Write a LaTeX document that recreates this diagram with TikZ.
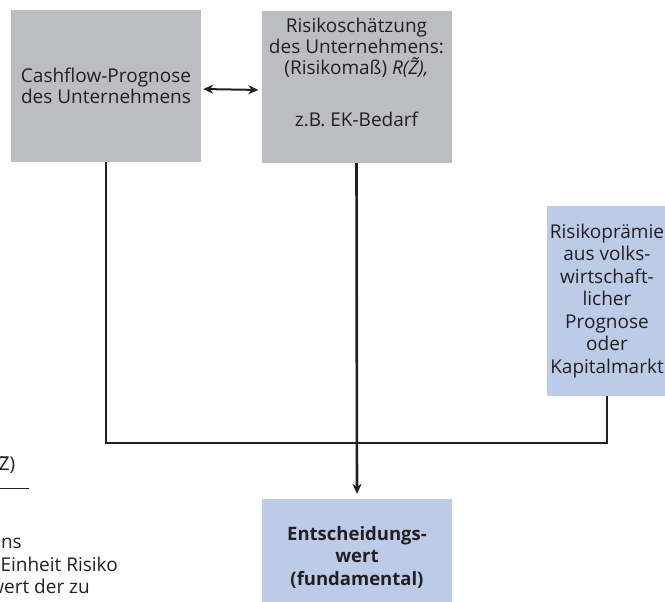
\documentclass[tikz,border=0pt]{standalone}
\usepackage{fontspec}
\setmainfont{Open Sans}
\usetikzlibrary{arrows.meta, positioning}
\definecolor{boxgray}{RGB}{188,189,192}
\definecolor{boxblue}{RGB}{188,203,232}
\definecolor{inkgray}{RGB}{35,31,32}

\begin{document}
\begin{tikzpicture}[x=1pt,y=-1pt,
  graybox/.style={fill=boxgray, minimum width=190pt, minimum height=152pt, inner sep=0pt},
  bluebox/.style={fill=boxblue, inner sep=0pt},
  boxtext/.style={align=center, text=inkgray, font=\fontsize{19}{21}\selectfont},
  sidetext/.style={text=inkgray, inner sep=0pt, font=\fontsize{19}{21}\selectfont},
  link/.style={line width=2.6pt, draw=inkgray}]
\useasboundingbox (0,0) rectangle (665,602);
% Prognose und Risiko
\node[graybox, boxtext] (cash) at (106,86) {Cashflow-Prognose\\des Unternehmens};
\node[graybox] (risk) at (356.5,87) {};
\node[boxtext, below=4pt of risk.north] (risktext) {Risikoschätzung\\des Unternehmens:\\(Risikomaß) \textit{R(Z̃),}\\[31pt]z.B. EK-Bedarf};
\node[bluebox, boxtext, minimum width=120pt, minimum height=190pt, font=\fontsize{19}{22.5}\selectfont] (premium) at (607,301) {Risikoprämie\\aus volks-\\wirtschaft-\\licher\\Prognose\\oder\\Kapitalmarkt};
\node[bluebox, boxtext, minimum width=190pt, minimum height=116pt, font=\fontsize{18.5}{22.5}\selectfont\bfseries] (value) at (357,557) {Entscheidungs-\\wert\\(fundamental)};
% abgeschnittener Text links
\node[sidetext, anchor=base east] (frag1) at (15.5,470) {Z̃)};
\draw[inkgray, line width=0.8pt] (-5,488) -- (29,488);
\node[sidetext, anchor=base east] (frag2) at (22,548) {ins};
\node[sidetext, anchor=base east] (frag3) at (118,571) {Einheit Risiko};
\node[sidetext, anchor=base east] (frag4) at (90,593) {wert der zu};
% Verbindungen
\coordinate (merge) at (0,443);
\draw[link] (cash.south) |- (merge -| premium.south) -- (premium.south);
\draw[link, -{Stealth[length=10pt, width=9pt]}, shorten >=5pt] (risk.south) -- (value.north);
\draw[link, line width=2pt, {Stealth[length=10pt, width=9pt]}-{Stealth[length=10pt, width=9pt]}, shorten <=2pt, shorten >=3pt] ([yshift=-3pt]cash.east) -- ([yshift=-3pt]risk.west);
\end{tikzpicture}
\end{document}
